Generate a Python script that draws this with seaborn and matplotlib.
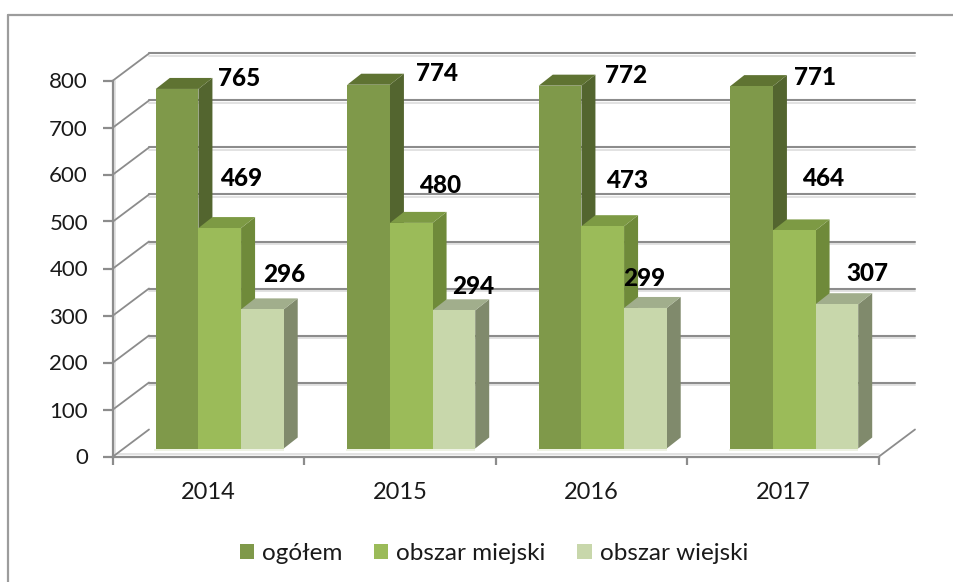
import matplotlib
matplotlib.use("Agg")
import matplotlib.pyplot as plt
from matplotlib.lines import Line2D
from matplotlib.patches import Patch, Polygon, Rectangle
import pandas as pd
import seaborn as sns

years = ["2014", "2015", "2016", "2017"]
series_names = ["ogółem", "obszar miejski", "obszar wiejski"]
ogolem = [765, 774, 772, 771]
miejski = [469, 480, 473, 464]
wiejski = [296, 294, 299, 307]
y_ticks = [0, 100, 200, 300, 400, 500, 600, 700, 800]

front_colors = ["#7F994A", "#9BBB59", "#C8D7AB"]
side_colors = ["#53652F", "#6F8A3A", "#808A6C"]
top_colors = ["#5F7332", "#7D9A44", "#A1AE8C"]
grid_color = "#8C8C8C"
shade_color = "#E2E2E2"
label_offsets_px = [
    [(62, 10), (68, 11), (66, 10), (63, 9)],
    [(21, 50), (29, 37), (24, 46), (29, 52)],
    [(22, 35), (19, 24), (-1, 29), (30, 31)],
]

W, H = 954, 582
FRONT_L, FRONT_R, FRONT_B, FRONT_T = 113, 879, 456.5, 80.5
WALL_DX, WALL_DY = 36, 27
BAR_SHIFT_X, BAR_SHIFT_Y = 11, 8
BAR_DX, BAR_DY = 14, 11

sns.set_theme(style="white")
plt.rcParams["font.family"] = ["Lato", "DejaVu Sans"]

df = pd.DataFrame({
    "rok": years * 3,
    "seria": [n for n in series_names for _ in years],
    "wartosc": ogolem + miejski + wiejski,
})

fig = plt.figure(figsize=(W / 100, H / 100), dpi=100, facecolor="white")


def make_axes(shift_x=0.0, shift_y=0.0):
    return fig.add_axes([
        (FRONT_L + shift_x) / W,
        (H - FRONT_B + shift_y) / H,
        (FRONT_R - FRONT_L) / W,
        (FRONT_B - FRONT_T) / H,
    ])


ax = make_axes()
ax_bars = make_axes(BAR_SHIFT_X, BAR_SHIFT_Y)
ax_bars.patch.set_alpha(0)

sns.barplot(data=df, x="rok", y="wartosc", hue="seria", order=years,
            hue_order=series_names, palette=front_colors, saturation=1,
            width=0.668, gap=0, legend=False, ax=ax_bars, linewidth=0)

xlim, ylim = (-0.5, 3.5), (0, 800)
for a in (ax, ax_bars):
    a.set_xlim(xlim)
    a.set_ylim(ylim)
ax_bars.axis("off")

unit_x = (FRONT_R - FRONT_L) / 4
unit_y = (FRONT_B - FRONT_T) / 800
dx_w, dy_w = WALL_DX / unit_x, WALL_DY / unit_y
dx_b, dy_b = BAR_DX / unit_x, BAR_DY / unit_y

# walls
for v in y_ticks:
    if v > 0:
        ax.plot([xlim[0] + dx_w, xlim[1] + dx_w], [v + dy_w - 2 / unit_y] * 2,
                color=shade_color, lw=1.4, clip_on=False, zorder=1)
        ax.plot([xlim[0] + dx_w, xlim[1] + dx_w], [v + dy_w] * 2,
                color=grid_color, lw=1.5, clip_on=False, zorder=1.1)
    ax.plot([xlim[0], xlim[0] + dx_w], [v, v + dy_w],
            color=grid_color, lw=1.3, clip_on=False, zorder=1.1)
ax.plot([xlim[1], xlim[1] + dx_w], [0, dy_w], color=grid_color, lw=1.3,
        clip_on=False, zorder=1.1)
ax.plot([xlim[0] + 2 / unit_x] * 2, [0, 800], color=shade_color, lw=1.4,
        clip_on=False, zorder=1)
ax.plot(xlim, [2.5 / unit_y] * 2, color=shade_color, lw=1.4, clip_on=False, zorder=1)

# 3D faces
for i, container in enumerate(ax_bars.containers):
    for j, rect in enumerate(container.patches):
        x0, x1 = rect.get_x(), rect.get_x() + rect.get_width()
        h = rect.get_height()
        rect.set_zorder(10)
        ax_bars.add_patch(Polygon(
            [(x1, 0), (x1 + dx_b, dy_b), (x1 + dx_b, h + dy_b), (x1, h)],
            closed=True, fc=side_colors[i], ec="none", clip_on=False, zorder=3 + i))
        ax_bars.add_patch(Polygon(
            [(x0, h), (x0 + dx_b, h + dy_b), (x1 + dx_b, h + dy_b), (x1, h)],
            closed=True, fc=top_colors[i], ec="none", clip_on=False, zorder=3 + i))
        # pale glow under and beside the front face
        ax_bars.add_patch(Rectangle(
            (x0 - 1.5 / unit_x, -2.5 / unit_y), x1 - x0 + 1.5 / unit_x, 2.5 / unit_y,
            fc="#EEF2E4", ec="none", clip_on=False, zorder=2))
        ox, oy = label_offsets_px[i][j]
        ax_bars.annotate(str(int(h)), xy=(rect.get_x() + rect.get_width() / 2, h),
                         xytext=(ox, oy), textcoords="offset pixels",
                         ha="center", va="center", fontsize=17.5, fontweight=900,
                         color="black", annotation_clip=False, zorder=20)

# axes furniture
sns.despine(ax=ax, top=True, right=True)
for side in ("left", "bottom"):
    ax.spines[side].set_color(grid_color)
    ax.spines[side].set_linewidth(1.6)
    ax.spines[side].set_zorder(2)
ax.patch.set_alpha(0)
ax.set_yticks(y_ticks)
ax.set_yticklabels([str(v) for v in y_ticks])
ax.set_xticks([-0.5, 0.5, 1.5, 2.5, 3.5])
ax.set_xticklabels([])
ax.set_xticks([0, 1, 2, 3], labels=years, minor=True)
ax.tick_params(axis="y", which="major", length=7, width=1.6, color=grid_color, left=True,
               labelsize=16, pad=11, labelcolor="#1A1A1A")
ax.tick_params(axis="x", which="major", length=5.5, width=1.6, color=grid_color, bottom=True)
ax.tick_params(axis="x", which="minor", length=0, labelsize=17, pad=18.5, labelcolor="#1A1A1A")
ax.set_xlabel("")
ax.set_ylabel("")

# legend
handles = [Patch(fc=c, ec="none", label=n) for c, n in zip(front_colors, series_names)]
fig.legend(handles=handles, loc="center", bbox_to_anchor=(494 / W, (H - 553.5) / H),
           ncol=3, frameon=False, fontsize=17.5, handlelength=0.58, handleheight=0.58,
           handletextpad=0.34, columnspacing=1.3, labelcolor="#1A1A1A", borderpad=0)

# chart frame
for xs, ys in (([8, W], [15, 15]), ([8, 8], [15, H])):
    fig.add_artist(Line2D([x / W for x in xs], [1 - y / H for y in ys],
                          color="#9C9C9C", lw=1.6))

fig.savefig("out.png", dpi=100, facecolor="white")
